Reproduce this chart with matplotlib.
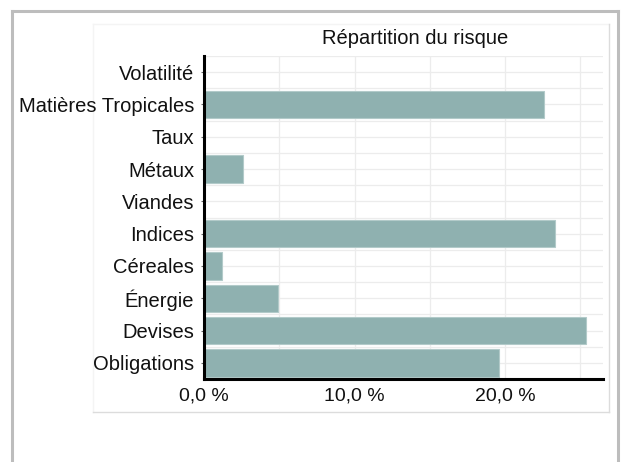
import matplotlib.pyplot as plt
from matplotlib.lines import Line2D
from matplotlib.ticker import FuncFormatter, MultipleLocator

# data (bottom to top)
categories = ["Obligations", "Devises", "Énergie", "Céreales", "Indices",
              "Viandes", "Métaux", "Taux", "Matières Tropicales", "Volatilité"]
values = [19.6, 25.4, 4.9, 1.2, 23.3, 0.0, 2.6, 0.0, 22.6, 0.0]
x_ticks = [0, 10, 20]

plt.rcParams['font.family'] = ['Liberation Sans', 'DejaVu Sans']

W, H = 621, 462
fig = plt.figure(figsize=(W / 100, H / 100), dpi=100)

def fx(px):
    return px / W

def fy(py):
    return 1 - py / H

# outer grey frame
for xs, ys in [([11.5, 11.5], [H + 5, 10.5]), ([11.5, 618], [10.5, 10.5]),
               ([618, 618], [10.5, H + 5])]:
    fig.add_artist(Line2D([fx(v) for v in xs], [fy(v) for v in ys],
                          color='#bdbdbd', lw=2.2, zorder=-1))

# inner panel border (drawn behind the axes so labels stay on top)
fig.add_artist(Line2D([fx(93), fx(609)], [fy(24), fy(24)], color='#f4f4f4', lw=1, zorder=-1))
fig.add_artist(Line2D([fx(93), fx(93)], [fy(24), fy(412)], color='#f4f4f4', lw=1, zorder=-1))
fig.add_artist(Line2D([fx(93), fx(609)], [fy(412), fy(412)], color='#dcdcdc', lw=1, zorder=-1))
fig.add_artist(Line2D([fx(609), fx(609)], [fy(24), fy(412)], color='#dcdcdc', lw=1, zorder=-1))

ax = fig.add_axes([fx(204), fy(379), fx(603) - fx(204), fy(56) - fy(379)])
ax.patch.set_alpha(0)

y = range(len(categories))
ax.barh(y, values, height=0.85, color='#8fb1b0', edgecolor='#b2cac9',
        linewidth=0.8, zorder=3)

ax.set_xlim(0, 26.5)
ax.set_ylim(-0.42, len(categories) - 1 + 0.45)

ax.set_xticks(x_ticks)
ax.xaxis.set_major_formatter(FuncFormatter(lambda v, p: f"{v:.1f} %".replace('.', ',')))
ax.xaxis.set_minor_locator(MultipleLocator(5))
ax.set_yticks(list(y))
ax.set_yticklabels(categories)
ax.set_yticks([i + 0.5 for i in range(-1, len(categories))], minor=True)

ax.grid(True, which='both', color='#ececec', lw=0.9, zorder=0)
ax.set_axisbelow(True)

for s in ['top', 'right']:
    ax.spines[s].set_visible(False)
for s in ['left', 'bottom']:
    ax.spines[s].set_linewidth(2.2)
    ax.spines[s].set_color('black')
    ax.spines[s].set_zorder(4)

ax.tick_params(axis='y', which='major', length=2.5, width=0.8, color='#666666',
               pad=4.5, labelsize=14.5, labelcolor='#111111')
ax.tick_params(axis='x', which='major', length=0, pad=6, labelsize=14,
               labelcolor='#111111')
ax.tick_params(which='minor', length=0)

fig.text(fx(415), fy(38), "Répartition du risque", ha='center', va='center',
         fontsize=14.5, color='#111111')

fig.savefig('out.png', dpi=100)
